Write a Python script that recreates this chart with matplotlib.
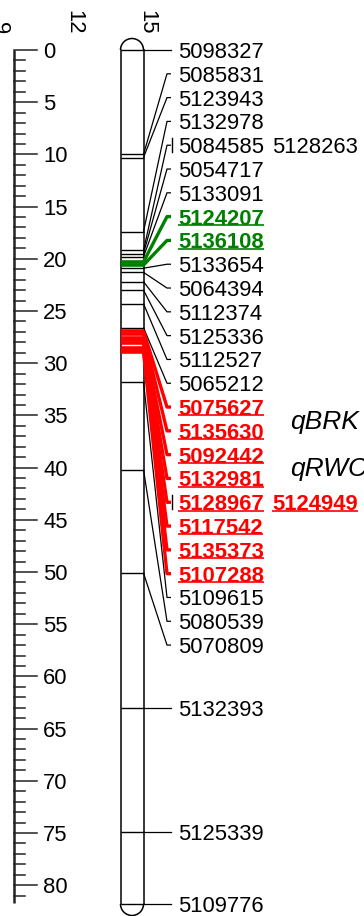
import numpy as np
import matplotlib.pyplot as plt
from matplotlib.patches import Arc

# marker names and map positions (cM) for linkage group 15
names = ["5098327", "5085831", "5123943", "5132978", "5084585", "5128263",
         "5054717", "5133091", "5124207", "5136108", "5133654", "5064394",
         "5112374", "5125336", "5112527", "5065212", "5075627", "5135630",
         "5092442", "5132981", "5128967", "5124949", "5117542", "5135373",
         "5107288", "5109615", "5080539", "5070809", "5132393", "5125339",
         "5109776"]
positions = [0.0, 10.0, 10.3, 17.4, 19.2, 19.2,
             19.5, 19.8, 20.3, 20.6, 20.9, 21.3,
             22.2, 23.0, 24.3, 26.6, 26.9, 27.2,
             27.6, 27.8, 28.1, 28.1, 28.5, 28.7,
             28.9, 31.8, 40.2, 50.1, 63.0, 74.9,
             81.8]
# qtl membership: "" none, "g" green interval, "r" red interval
qtl = [""] * 8 + ["g", "g"] + [""] * 6 + ["r"] * 9 + [""] * 6

qtl_names = ["qBRK", "qRWC"]
qtl_pos = [35.44, 39.94]

chrom_label = "15"
side_labels = ["12", "9"]

PX_PER_CM = 10.44
FS = 15.8
FONT = "Liberation Sans"
COLORS = {"": "black", "g": "#008000", "r": "#ff0000"}


def spread_labels(targets, gap, lo, hi):
    # MapChart-like label spreading: merge overlapping groups, center them
    groups = [[t] for t in targets]
    while True:
        starts = []
        for g in groups:
            s = np.mean(g) - gap * (len(g) - 1) / 2
            s = max(s, lo)
            s = min(s, hi - gap * (len(g) - 1))
            starts.append(s)
        merged = False
        for i in range(len(groups) - 1):
            end_i = starts[i] + gap * (len(groups[i]) - 1)
            if end_i + gap > starts[i + 1] + 1e-9:
                groups[i] = groups[i] + groups[i + 1]
                del groups[i + 1]
                merged = True
                break
        if not merged:
            break
    out = []
    for g, s in zip(groups, starts):
        out += [s + gap * k for k in range(len(g))]
    return out


def main():
    fig = plt.figure(figsize=(3.64, 9.16), dpi=100)
    ax = fig.add_axes([0, 0, 1, 1])
    ax.set_xlim(0, 364)
    ax.set_ylim((916 - 50) / PX_PER_CM, -50 / PX_PER_CM)
    ax.axis("off")

    # ruler
    ax.plot([14, 14], [0, 81.7], color="#222222", lw=1.8, solid_capstyle="butt")
    for c in range(0, 82):
        x1 = 37 if c % 5 == 0 else 25
        ax.plot([14, x1], [c, c], color="#222222", lw=1.1)
        if c % 5 == 0:
            ax.text(43, c, str(c), fontsize=FS, family=FONT, va="center_baseline", ha="left")

    # chromosome outline
    xl, xr = 120.5, 143.5
    top, bot = positions[0], positions[-1]
    ax.plot([xl, xl], [top, bot], color="black", lw=1.1)
    ax.plot([xr, xr], [top, bot], color="black", lw=1.1)
    w = xr - xl
    ax.add_patch(Arc(((xl + xr) / 2, top), w, w / PX_PER_CM, theta1=180, theta2=360, color="black", lw=1.1))
    ax.add_patch(Arc(((xl + xr) / 2, bot), w, w / PX_PER_CM, theta1=0, theta2=180, color="black", lw=1.1))

    # group markers sharing a position into one label
    labels = []
    for n, p, q in zip(names, positions, qtl):
        if labels and abs(labels[-1]["pos"] - p) < 1e-6:
            labels[-1]["names"].append(n)
        else:
            labels.append({"names": [n], "pos": p, "qtl": q})

    lab_y = spread_labels([l["pos"] for l in labels], 2.28, positions[0], positions[-1])

    # black first, colored on top
    order = sorted(range(len(labels)), key=lambda i: labels[i]["qtl"] != "")
    for i in order:
        l = labels[i]
        col = COLORS[l["qtl"]]
        lw_in = 2.6 if l["qtl"] else 1.0
        lw_c = 2.4 if l["qtl"] else 0.9
        p, y = l["pos"], lab_y[i]
        ax.plot([xl + 0.8, xr], [p, p], color=col, lw=lw_in, solid_capstyle="butt")
        if abs(p - y) < 0.05:
            ax.plot([xr, 171], [p, p], color=col, lw=lw_c)
        else:
            ax.plot([xr, 167, 171], [p, y, y], color=col, lw=lw_c, solid_capstyle="butt")
        if len(l["names"]) > 1:
            ax.plot([172, 172], [y - 0.65, y + 0.65], color="black", lw=1.0)

    texts = []
    for i, l in enumerate(labels):
        col = COLORS[l["qtl"]]
        wt = "bold" if l["qtl"] else "normal"
        for k, n in enumerate(l["names"]):
            t = ax.text(178 + 94 * k, lab_y[i], n, fontsize=FS, family=FONT, color=col,
                        weight=wt, va="center_baseline", ha="left")
            if l["qtl"]:
                texts.append((t, lab_y[i], col))

    # underline colored labels
    fig.canvas.draw()
    inv = ax.transData.inverted()
    for t, y, col in texts:
        bb = t.get_window_extent()
        x0 = inv.transform((bb.x0, 0))[0]
        x1 = inv.transform((bb.x1, 0))[0]
        ax.plot([x0, x1], [y + 0.8, y + 0.8], color=col, lw=1.2, solid_capstyle="butt")

    for n, p in zip(qtl_names, qtl_pos):
        ax.text(290, p, n, fontsize=19, family=FONT, style="italic", va="center_baseline", ha="left")

    ax.text(147, -2.68, chrom_label, fontsize=FS, family=FONT, rotation=-90, ha="center", va="center")
    ax.text(74, -2.68, side_labels[0], fontsize=FS, family=FONT, rotation=-90, ha="center", va="center")
    ax.text(-1, -2.1, side_labels[1], fontsize=FS, family=FONT, rotation=-90, ha="center", va="center")

    plt.savefig("out.png", dpi=100)


if __name__ == "__main__":
    main()
